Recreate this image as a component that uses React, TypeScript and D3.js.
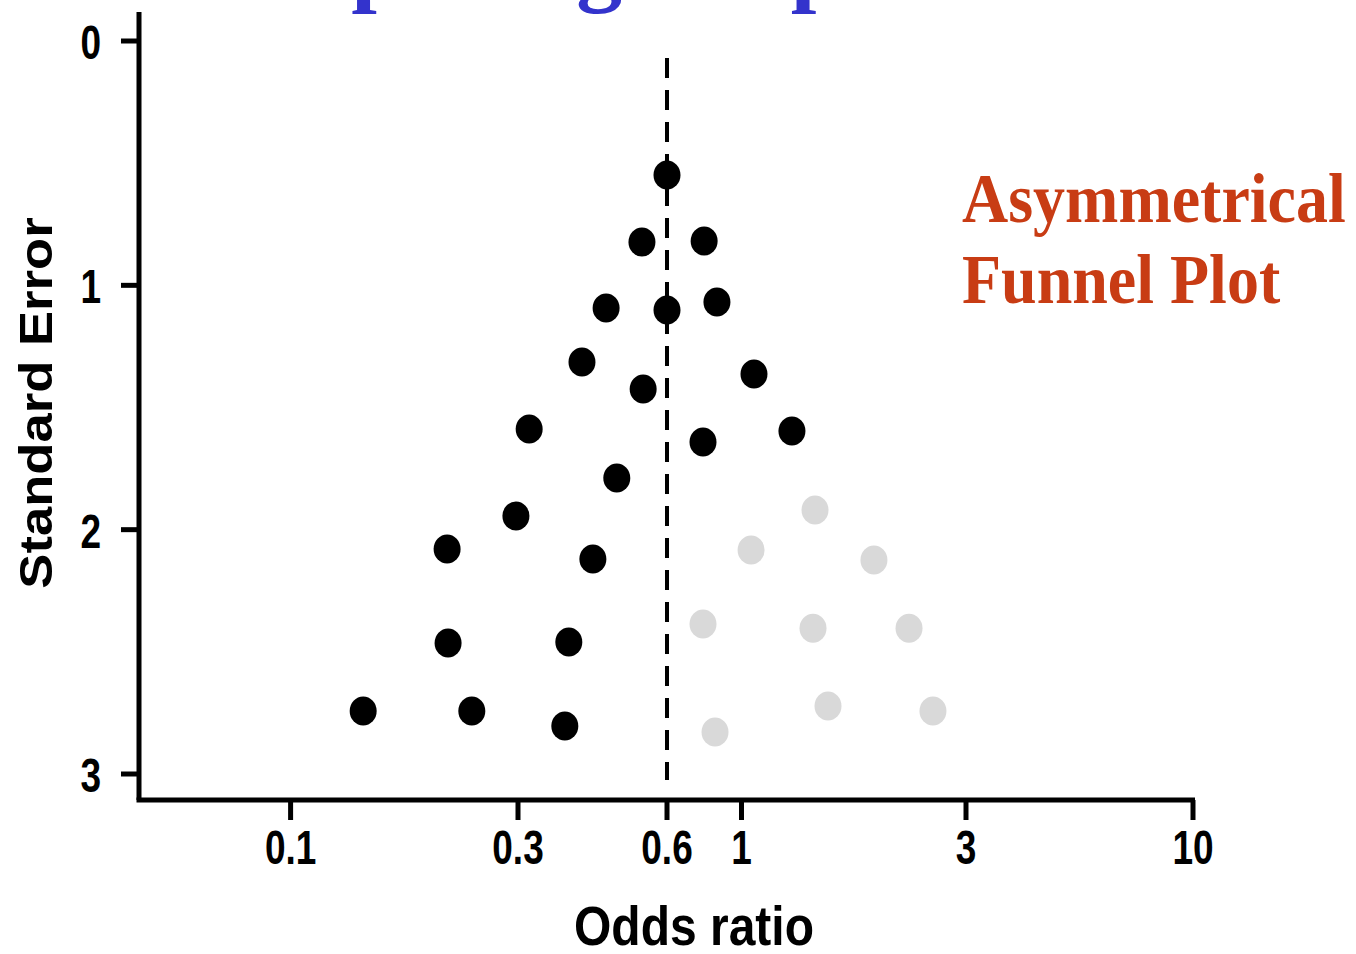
import React from 'react';
import * as d3 from 'd3';

// odds ratio ticks on the bottom axis
const xTicks = [0.1, 0.3, 0.6, 1, 3, 10];
const xTickLabels = ['0.1', '0.3', '0.6', '1', '3', '10'];
const yTicks = [0, 1, 2, 3];

// observed studies (black)
const shownOR = [0.6, 0.534, 0.774, 0.452, 0.6, 0.845, 0.404, 0.537, 1.063, 0.316, 1.28, 0.768, 0.475, 0.297, 0.213, 0.425, 0.214, 0.38, 0.142, 0.24, 0.373];
const shownSE = [0.548, 0.823, 0.819, 1.093, 1.101, 1.068, 1.314, 1.424, 1.363, 1.588, 1.596, 1.641, 1.789, 1.944, 2.079, 2.12, 2.464, 2.46, 2.742, 2.742, 2.804];

// missing studies (grey)
const missingOR = [1.433, 1.048, 1.912, 0.768, 1.419, 2.27, 1.527, 2.552, 0.834];
const missingSE = [1.92, 2.083, 2.124, 2.386, 2.403, 2.403, 2.722, 2.742, 2.828];

const pooledOR = 0.6;

const W = 1356;
const H = 954;

const App = () => {
  // the printed axis is not a true log axis, so each decade piece gets its own stretch
  const x = d3.scaleLog().domain(xTicks).range([290.6, 518, 667, 741.5, 966, 1193]);
  const y = d3.scaleLinear().domain([0, 3]).range([41, 774]);

  const axisLeft = 139;
  const axisBottom = 800;
  const sans = '"Liberation Sans", Arial, sans-serif';
  const serif = '"Liberation Serif", "Times New Roman", serif';

  return (
    <div>
      <style>{`body { margin: 0; }`}</style>
      <svg width={W} height={H} style={{ display: 'block', background: '#fff' }}>
        {/* title, cut off at the top */}
        <text x={244} y={-5} fontFamily={serif} fontWeight="bold" fontSize={92} fill="#3333cc">
          Depicting the presence
        </text>

        {/* axes */}
        <line x1={axisLeft} x2={axisLeft} y1={12} y2={axisBottom} stroke="#000" strokeWidth={5} />
        <line x1={axisLeft - 2.5} x2={x(10) + 2} y1={axisBottom} y2={axisBottom} stroke="#000" strokeWidth={5} />

        {yTicks.map(t => (
          <g key={'y' + t}>
            <line x1={axisLeft - 18} x2={axisLeft} y1={y(t)} y2={y(t)} stroke="#000" strokeWidth={5} />
            <text
              transform={`translate(${axisLeft - 38},${y(t) + 18}) scale(1,1.28)`}
              textAnchor="end"
              fontFamily={sans}
              fontWeight="bold"
              fontSize={37}
            >
              {t}
            </text>
          </g>
        ))}

        {xTicks.map((t, i) => (
          <g key={'x' + t}>
            <line x1={x(t)} x2={x(t)} y1={axisBottom} y2={axisBottom + 20} stroke="#000" strokeWidth={5} />
            <text
              transform={`translate(${x(t)},864) scale(1,1.28)`}
              textAnchor="middle"
              fontFamily={sans}
              fontWeight="bold"
              fontSize={37}
            >
              {xTickLabels[i]}
            </text>
          </g>
        ))}

        <text
          transform="translate(694,945) scale(1,1.15)"
          textAnchor="middle"
          fontFamily={sans}
          fontWeight="bold"
          fontSize={48}
        >
          Odds ratio
        </text>
        <text
          transform="translate(52,403) scale(1,1.12) rotate(-90)"
          textAnchor="middle"
          fontFamily={sans}
          fontWeight="bold"
          fontSize={47}
        >
          Standard Error
        </text>

        {/* pooled estimate */}
        <line
          x1={x(pooledOR)}
          x2={x(pooledOR)}
          y1={58}
          y2={780}
          stroke="#000"
          strokeWidth={4}
          strokeDasharray="20 12"
        />

        {missingOR.map((v, i) => (
          <ellipse key={'m' + i} cx={x(v)} cy={y(missingSE[i])} rx={13.5} ry={14.5} fill="#d9d9d9" />
        ))}
        {shownOR.map((v, i) => (
          <ellipse key={'s' + i} cx={x(v)} cy={y(shownSE[i])} rx={13.5} ry={14.5} fill="#000" />
        ))}

        <g fontFamily={serif} fontWeight="bold" fontSize={64} fill="#c83c14">
          <text transform="translate(962,222) scale(1,1.1)">Asymmetrical</text>
          <text transform="translate(962,303) scale(1,1.1)">Funnel Plot</text>
        </g>
      </svg>
    </div>
  );
};

export default App;
